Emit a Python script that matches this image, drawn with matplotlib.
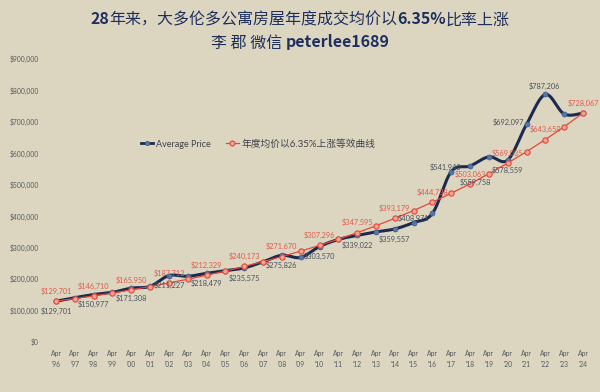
import numpy as np
import matplotlib
matplotlib.use("Agg")
import matplotlib.pyplot as plt
from matplotlib.offsetbox import TextArea, HPacker, AnchoredOffsetbox
from matplotlib.lines import Line2D

# ---------------- data ----------------
years = ["'96", "'97", "'98", "'99", "'00", "'01", "'02", "'03", "'04", "'05",
         "'06", "'07", "'08", "'09", "'10", "'11", "'12", "'13", "'14", "'15",
         "'16", "'17", "'18", "'19", "'20", "'21", "'22", "'23", "'24"]
tick_labels = ["Apr\n" + y for y in years]

avg_price = [129701, 141000, 150977, 158000, 171308, 177000, 211227, 209000,
             218479, 227000, 235575, 255000, 275826, 269000, 303570, 326000,
             339022, 350000, 359557, 380000, 408971, 541940, 559758, 589000,
             578559, 692097, 787206, 725000, 728067]

equiv_635 = [129701, 137944, 146710, 156034, 165950, 176496, 187712, 199641,
             212329, 225823, 240173, 255437, 271670, 288935, 307296, 326825,
             347595, 369684, 393179, 418164, 444738, 473000, 503063, 535032,
             569035, 605195, 643658, 684561, 728067]

# labelled points: index -> placement
blue_labels = {0: "below", 2: "below", 4: "below", 6: "below", 8: "below",
               10: "below", 12: "below", 14: "below", 16: "below", 18: "below",
               20: "left", 21: "special", 22: "below2", 24: "below", 25: "left",
               26: "above"}
red_label_idx = list(range(0, 29, 2))

yticks = list(range(0, 900001, 100000))

# ---------------- style ----------------
BG = "#dcd6c1"
NAVY = "#1b2a4e"
BLUE_MK = "#5677a6"
RED = "#e6453a"
RED_TXT = "#e0584a"
GRAY_TXT = "#4a5260"
TITLE_C = "#1f2f5e"

fig = plt.figure(figsize=(6.0, 3.92), dpi=100, facecolor=BG)
ax = fig.add_axes([46.6 / 600, 1 - 342 / 392, (592.4 - 46.6) / 600, (342 - 59) / 392])
ax.set_facecolor(BG)

x = np.arange(len(years))


def smooth_curve(xs, ys, n=24):
    P = np.column_stack([xs, ys]).astype(float)
    out = []
    for i in range(len(P) - 1):
        p0 = P[i - 1] if i > 0 else P[i]
        p1 = P[i]
        p2 = P[i + 1]
        p3 = P[i + 2] if i + 2 < len(P) else P[i + 1]
        c1 = p1 + (p2 - p0) / 6.0
        c2 = p2 - (p3 - p1) / 6.0
        t = np.linspace(0, 1, n, endpoint=(i == len(P) - 2))[:, None]
        seg = ((1 - t) ** 3) * p1 + 3 * ((1 - t) ** 2) * t * c1 + 3 * (1 - t) * t ** 2 * c2 + t ** 3 * p2
        out.append(seg)
    S = np.vstack(out)
    return S[:, 0], S[:, 1]


sx, sy = smooth_curve(x, avg_price)
ax.plot(sx, sy, color=NAVY, lw=2.2, zorder=2, solid_capstyle="round")
ax.plot(x, avg_price, ls="none", marker="o", ms=3.6, mfc=BLUE_MK, mec="#3d5c8c",
        mew=0.5, zorder=2.5)

ax.plot(x, equiv_635, color=RED, lw=0.9, marker="o", ms=3.8, mfc="#eea58f",
        mec=RED, mew=0.8, zorder=3)

LBL_FONT = dict(fontsize=5.3, family=["Lato", "DejaVu Sans"])


def money(v):
    return "${:,}".format(v)


for i, pos in blue_labels.items():
    v = avg_price[i]
    if pos == "below":
        off, ha, va = (0, -7.2), "center", "center"
    elif pos == "below2":
        off, ha, va = (3.5, -12.0), "center", "center"
    elif pos == "above":
        off, ha, va = (-1, 6.2), "center", "center"
    elif pos == "left" and i == 20:
        off, ha, va = (-2.5, -3.2), "right", "center"
    elif pos == "left":
        off, ha, va = (-1.5, 1.5), "right", "center"
    else:  # special
        off, ha, va = (-4.5, 3.5), "center", "center"
    ax.annotate(money(v), (x[i], v), xytext=off, textcoords="offset points",
                ha=ha, va=va, color=GRAY_TXT, zorder=5, **LBL_FONT)

for i in red_label_idx:
    v = equiv_635[i]
    ax.annotate(money(v), (x[i], v), xytext=(0, 7.2), textcoords="offset points",
                ha="center", va="center", color=RED_TXT, zorder=5, **LBL_FONT)

# axes
ax.set_xlim(-0.5, len(years) - 0.5)
ax.set_ylim(0, 900000)
ax.set_yticks(yticks)
ax.set_yticklabels([money(v) for v in yticks])
ax.set_xticks(x)
ax.set_xticklabels(tick_labels, linespacing=1.55)
for s in ax.spines.values():
    s.set_visible(False)
ax.tick_params(axis="y", length=0, pad=5.5, labelsize=4.9, labelcolor="#555a60")
ax.tick_params(axis="x", length=0, pad=6.0, labelsize=4.9, labelcolor="#555a60")
for t in ax.get_yticklabels() + ax.get_xticklabels():
    t.set_family(["Lato", "DejaVu Sans"])

# legend
h1 = Line2D([], [], color=NAVY, lw=2.0, marker="o", ms=3.2, mfc=BLUE_MK, mec="#3d5c8c", mew=0.5)
h2 = Line2D([], [], color=RED, lw=0.9, marker="o", ms=3.6, mfc="#eea58f", mec=RED, mew=0.8)
leg = fig.legend([h1, h2], ["Average Price", "年度均价以6.35%上涨等效曲线"],
                 loc="center", bbox_to_anchor=(258 / 600, 1 - 144 / 392), ncol=2,
                 frameon=False, handlelength=1.3, handletextpad=0.25, columnspacing=1.6,
                 prop={"family": ["Lato", "Noto Sans CJK SC"], "size": 7})
leg.get_texts()[0].set_fontsize(6.5)
for t in leg.get_texts():
    t.set_color("#404448")

# title (mixed weights, real text)
TFONT = ["Noto Sans CJK SC", "DejaVu Sans"]


def title_line(parts, ycenter, size):
    tas = [TextArea(s, textprops=dict(fontsize=size, fontweight=w, color=TITLE_C, family=TFONT))
           for s, w in parts]
    box = HPacker(children=tas, align="baseline", pad=0, sep=0)
    ab = AnchoredOffsetbox(loc="center", child=box, pad=0, borderpad=0, frameon=False,
                           bbox_to_anchor=(0.5, 1 - ycenter / 392),
                           bbox_transform=fig.transFigure)
    fig.add_artist(ab)


title_line([("28", "bold"), ("年来，大多伦多公寓房屋年度成交均价以", "normal"),
            ("6.35%", "bold"), ("比率上涨", "normal")], 20, 11.5)
title_line([("李 郡 微信 ", "normal"), ("peterlee1689", "bold")], 43, 11.5)

fig.savefig("out.png", dpi=100, facecolor=BG)
